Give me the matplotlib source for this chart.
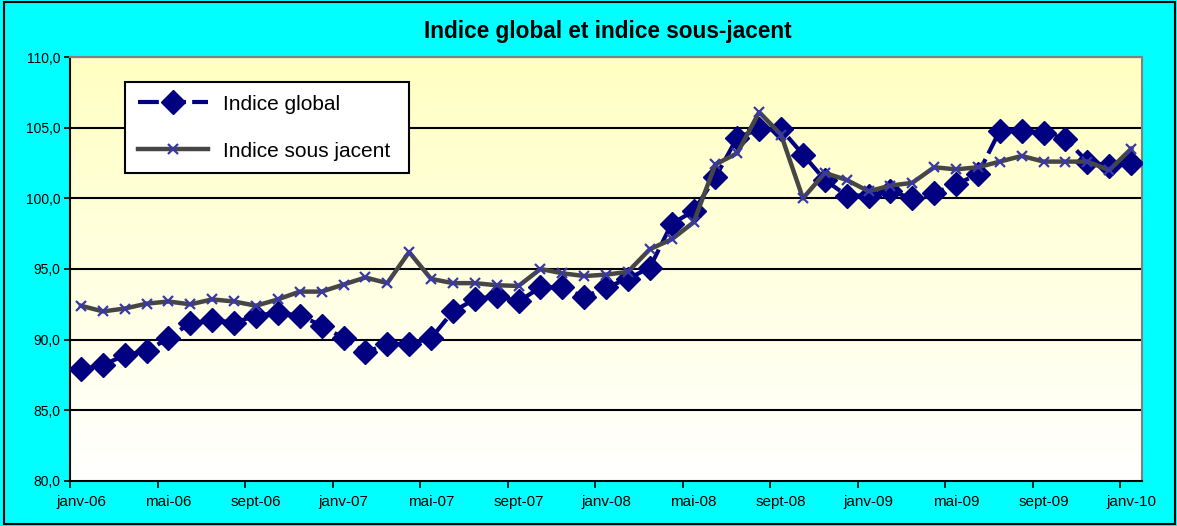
import numpy as np
import matplotlib.pyplot as plt
from matplotlib.patches import Rectangle
from matplotlib.ticker import FuncFormatter, FixedLocator

plt.rcParams['font.family'] = ['Liberation Sans', 'DejaVu Sans']

# monthly values, janv-06 .. janv-10
months = ['janv-06', 'févr-06', 'mars-06', 'avr-06', 'mai-06', 'juin-06', 'juil-06', 'août-06',
          'sept-06', 'oct-06', 'nov-06', 'déc-06', 'janv-07', 'févr-07', 'mars-07', 'avr-07',
          'mai-07', 'juin-07', 'juil-07', 'août-07', 'sept-07', 'oct-07', 'nov-07', 'déc-07',
          'janv-08', 'févr-08', 'mars-08', 'avr-08', 'mai-08', 'juin-08', 'juil-08', 'août-08',
          'sept-08', 'oct-08', 'nov-08', 'déc-08', 'janv-09', 'févr-09', 'mars-09', 'avr-09',
          'mai-09', 'juin-09', 'juil-09', 'août-09', 'sept-09', 'oct-09', 'nov-09', 'déc-09',
          'janv-10']

indice_global = [87.9, 88.2, 88.9, 89.2, 90.1, 91.2, 91.4, 91.2, 91.7, 91.9, 91.7, 91.0,
                 90.1, 89.1, 89.7, 89.7, 90.1, 92.0, 92.85, 93.1, 92.7, 93.7, 93.7, 93.0,
                 93.7, 94.3, 95.1, 98.2, 99.1, 101.5, 104.3, 104.9, 104.9, 103.1, 101.3, 100.2,
                 100.2, 100.5, 100.0, 100.35, 101.0, 101.7, 104.8, 104.8, 104.65, 104.2, 102.6, 102.3,
                 102.5]

indice_sous_jacent = [92.4, 92.0, 92.2, 92.55, 92.7, 92.5, 92.85, 92.7, 92.4, 92.85, 93.4, 93.4,
                      93.9, 94.4, 94.0, 96.2, 94.3, 94.0, 94.0, 93.85, 93.8, 95.0, 94.7, 94.5,
                      94.6, 94.8, 96.4, 97.1, 98.3, 102.4, 103.2, 106.1, 104.5, 100.0, 101.8, 101.3,
                      100.5, 100.9, 101.1, 102.2, 102.05, 102.2, 102.6, 103.0, 102.6, 102.6, 102.6, 102.0,
                      103.5]

x = np.arange(len(months))

fig = plt.figure(figsize=(11.77, 5.26), dpi=100)
fig.patch.set_facecolor('#00FFFF')
fig.patches.append(Rectangle((0.003, 0.004), 0.995, 0.992, transform=fig.transFigure,
                             fill=False, edgecolor='black', linewidth=1.5))

ax = fig.add_axes([0.0595, 0.0856, 0.9108, 0.806])

# light yellow to white background
grad = np.linspace(1, 0, 256).reshape(-1, 1)
top = np.array([1.0, 1.0, 0.76])
bot = np.array([1.0, 1.0, 1.0])
img = bot + (top - bot) * grad[:, :, None]
ax.imshow(img, extent=[-0.5, 48.5, 80, 110], aspect='auto', zorder=0)

for v in [85, 90, 95, 100, 105, 110]:
	ax.axhline(v, color='black', linewidth=1.5, zorder=1)

ax.plot(x, indice_global, color='#000080', linewidth=3, linestyle=(0, (5, 1.5)),
        marker='D', markersize=12.5, markerfacecolor='#000080', markeredgecolor='#000080',
        label='Indice global', zorder=3)
ax.plot(x, indice_sous_jacent, color='#464646', linewidth=3.2,
        marker='x', markersize=7.5, markeredgewidth=1.6, markeredgecolor='#3838A8',
        label='Indice sous jacent', zorder=4)

ax.set_xlim(-0.5, 48.5)
ax.set_ylim(80, 110)

ax.set_yticks([80, 85, 90, 95, 100, 105, 110])
ax.yaxis.set_major_formatter(FuncFormatter(lambda v, p: ('%.1f' % v).replace('.', ',')))
ax.tick_params(axis='y', direction='out', length=4, width=1.2, labelsize=10, pad=3)

# labels under points, tick marks between categories
ax.set_xticks(x[::4])
ax.set_xticklabels(months[::4])
ax.xaxis.set_minor_locator(FixedLocator(np.arange(-0.5, 48, 4)))
ax.tick_params(axis='x', which='major', length=0, labelsize=11, pad=10)
ax.tick_params(axis='x', which='minor', direction='out', length=5, width=1.2)

for s in ['left', 'bottom']:
	ax.spines[s].set_color('black')
	ax.spines[s].set_linewidth(1.5)
for s in ['top', 'right']:
	ax.spines[s].set_color('#808080')
	ax.spines[s].set_linewidth(1.5)

leg = ax.legend(loc='upper left', bbox_to_anchor=(0.0513, 0.70, 0.265, 0.241), mode='expand',
                borderaxespad=0, fontsize=15, frameon=True, fancybox=False, framealpha=1,
                edgecolor='black', handlelength=3.4, handletextpad=0.7,
                borderpad=0.6, labelspacing=1.35)
leg.get_frame().set_linewidth(1.5)
leg.set_zorder(5)

fig.text(0.5166, 0.941, 'Indice global et indice sous-jacent', ha='center', va='center',
         fontsize=16.3, fontweight='bold')

plt.savefig('out.png', dpi=100, facecolor=fig.get_facecolor())
